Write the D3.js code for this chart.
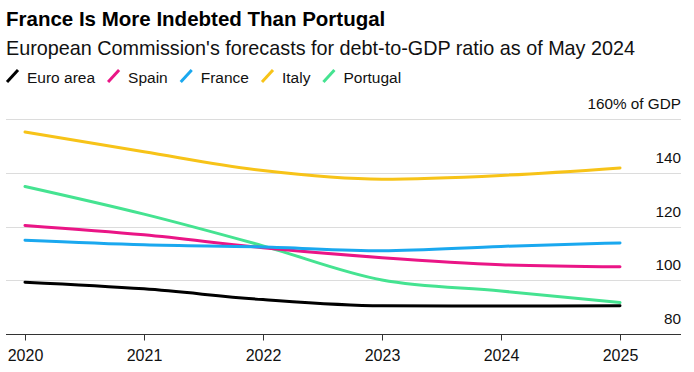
<!DOCTYPE html>
<html><head><meta charset="utf-8">
<script src="https://cdn.jsdelivr.net/npm/d3@7"></script>
<style>
body{margin:0;background:#fff;}
svg{display:block;font-family:"Liberation Sans",Arial,sans-serif;}
</style></head>
<body><svg id="c" width="694" height="372"></svg>
<script>
const years = [2020, 2021, 2022, 2023, 2024, 2025];
const seriesNames = ["Euro area", "Spain", "France", "Italy", "Portugal"];
const seriesColors = ["#000000", "#ea1586", "#1aa8ef", "#f7c318", "#45e391"];
const euroArea = [99.3, 96.8, 92.8, 90.5, 90.4, 90.5];
const spain    = [120.4, 116.9, 112.1, 108.4, 105.8, 105.0];
const france   = [114.9, 113.2, 112.4, 111.0, 112.6, 113.9];
const italy    = [155.2, 147.8, 140.8, 137.6, 139.0, 141.8];
const portugal = [134.9, 124.6, 112.8, 100.1, 96.0, 91.7];
const yTicks = [80, 100, 120, 140, 160];
const title = "France Is More Indebted Than Portugal";
const subtitle = "European Commission's forecasts for debt-to-GDP ratio as of May 2024";

const seriesValues = [euroArea, spain, france, italy, portugal];
const svg = d3.select("#c");

svg.append("text").attr("x", 6).attr("y", 26).attr("font-size", 20.5).attr("font-weight", "bold")
  .attr("fill", "#000").text(title);
svg.append("text").attr("x", 6).attr("y", 55).attr("font-size", 19.8).attr("fill", "#111").text(subtitle);

// legend
const lg = svg.append("g").attr("transform", "translate(0,77)");
let lx = 7;
seriesNames.forEach((n, i) => {
  lg.append("line").attr("x1", lx).attr("y1", 5).attr("x2", lx + 11).attr("y2", -7)
    .attr("stroke", seriesColors[i]).attr("stroke-width", 3);
  const t = lg.append("text").attr("x", lx + 20).attr("y", 6).attr("font-size", 15.5).attr("fill", "#111").text(n);
  lx += 20 + t.node().getComputedTextLength() + 13;
});

const x = d3.scaleLinear().domain([2020, 2025]).range([25, 620]);
const y = d3.scaleLinear().domain([80, 160]).range([334, 119]);

// gridlines
svg.append("g").selectAll("line").data(yTicks.filter(d => d > 80)).join("line")
  .attr("x1", 6).attr("x2", 681).attr("y1", d => Math.round(y(d)) + 0.5).attr("y2", d => Math.round(y(d)) + 0.5)
  .attr("stroke", "#dcdcdc").attr("stroke-width", 1);

// y labels
svg.append("g").selectAll("text").data(yTicks).join("text")
  .attr("x", 681).attr("y", d => y(d) - 10).attr("text-anchor", "end")
  .attr("font-size", 15.3).attr("fill", "#111")
  .text(d => d === 160 ? "160% of GDP" : d);

// x axis
const xAxis = d3.axisBottom(x).tickValues(years).tickFormat(d3.format("d")).tickSize(6).tickPadding(9);
const ax = svg.append("g").attr("transform", `translate(0,${Math.round(y(80)) + 0.5})`).call(xAxis);
ax.select(".domain").attr("d", "M6,0H681").attr("stroke", "#333");
ax.selectAll(".tick line").attr("stroke", "#333");
ax.selectAll(".tick text").attr("font-size", 16).attr("fill", "#111").attr("font-family", "Liberation Sans, Arial, sans-serif");

// lines
const line = d3.line().x((d, i) => x(years[i])).y(d => y(d)).curve(d3.curveMonotoneX);
const order = [3, 4, 1, 2, 0];
order.forEach(i => {
  svg.append("path").datum(seriesValues[i]).attr("d", line)
    .attr("fill", "none").attr("stroke", seriesColors[i]).attr("stroke-width", 3)
    .attr("stroke-linecap", "round").attr("stroke-linejoin", "round");
});
</script></body></html>
